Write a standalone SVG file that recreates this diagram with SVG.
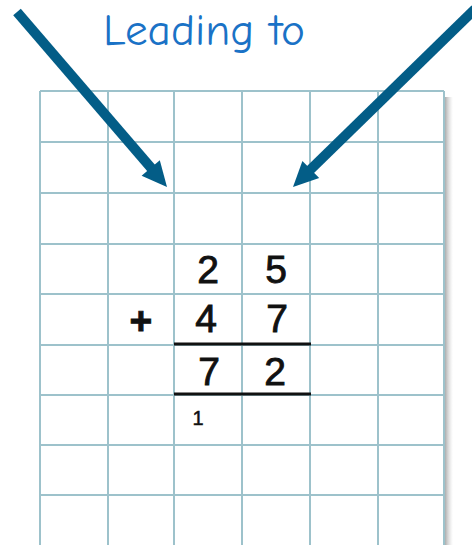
<svg xmlns="http://www.w3.org/2000/svg" width="472" height="545" viewBox="0 0 472 545">
<defs>
<style>
.g{stroke:#9dc2cb;stroke-width:2;fill:none}
.d{font-family:"Liberation Sans",Arial,sans-serif;font-size:39px;fill:#111;stroke:#111;stroke-width:0.9;text-anchor:middle}
.a{stroke:#035d87;stroke-width:10;fill:none}
.h{fill:#035d87}
</style>
<linearGradient id="sh" x1="0" x2="1" y1="0" y2="0">
<stop offset="0" stop-color="#999" stop-opacity="0.8"/>
<stop offset="1" stop-color="#ccc" stop-opacity="0"/>
</linearGradient>
</defs>
<rect width="472" height="545" fill="#fff"/>
<g id="grid">
<rect x="445" y="97" width="8" height="448" fill="url(#sh)"/>
<path class="g" d="M40 91V545M108 91V545M174 91V545M242 91V545M310 91V545M378 91V545M444 91V545"/>
<path class="g" d="M40 91H444M40 142H444M40 193H444M40 244H444M40 294H444M40 345H444M40 395H444M40 445H444M40 495H444"/>
</g>
<g id="title">
<text x="204" y="45" font-family="'Comic Neue','DejaVu Sans',sans-serif" font-size="45" fill="#1a72c6" text-anchor="middle" textLength="202" lengthAdjust="spacingAndGlyphs">Leading to</text>
</g>
<g id="sum">
<text class="d" x="208" y="283">2</text>
<text class="d" x="276" y="283">5</text>
<text class="d" x="141" y="334" font-size="50" font-weight="bold">+</text>
<text class="d" x="206" y="332">4</text>
<text class="d" x="277" y="332">7</text>
<path d="M174 344H311M174 394H311" stroke="#111" stroke-width="3"/>
<text class="d" x="209" y="385">7</text>
<text class="d" x="275" y="385">2</text>
<text x="198" y="425" font-family="'Liberation Sans',Arial,sans-serif" font-size="20" fill="#111" stroke="#111" stroke-width="0.5" text-anchor="middle">1</text>
</g>
<g id="connectors">
<path class="a" d="M17 12L152 169"/>
<polygon class="h" points="167,187 141.6,175.8 159.8,160.2"/>
<path class="a" d="M475 9L309 171"/>
<polygon class="h" points="293,187 319.2,177.9 302.4,160.9"/>
</g>
</svg>
